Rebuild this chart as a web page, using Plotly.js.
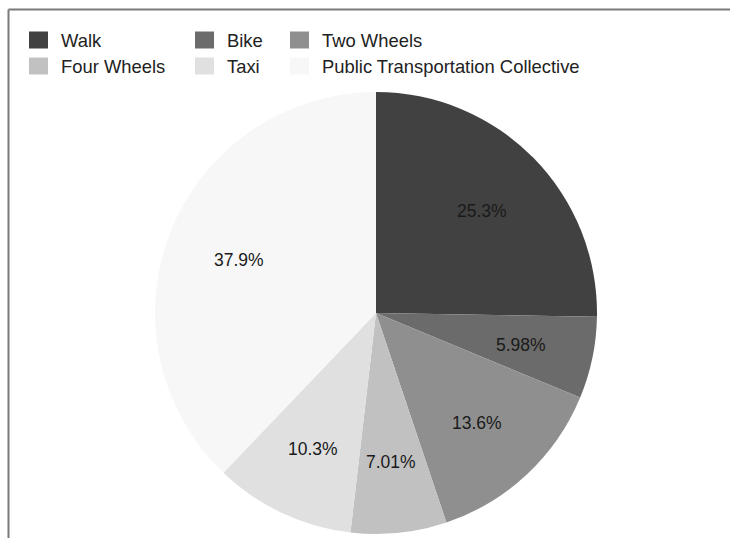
<!DOCTYPE html>
<html>
<head>
<meta charset="utf-8">
<script src="https://cdn.plot.ly/plotly-3.0.1.min.js"></script>
<style>
  html, body { margin: 0; padding: 0; background: #ffffff; }
  #chart { width: 730px; height: 538px; }
</style>
</head>
<body>
<div id="chart"></div>
<script>
// ---- data ----
var labels = ["Walk", "Bike", "Two Wheels", "Four Wheels", "Taxi", "Public Transportation Collective"];
var values = [25.3, 5.98, 13.6, 7.01, 10.3, 37.9];
var colors = ["#414141", "#6b6b6b", "#8f8f8f", "#c1c1c1", "#e0e0e0", "#f7f7f7"];

// ---- layout helpers ----
var W = 730, H = 538;
function px(x) { return x / W; }
function py(y) { return 1 - y / H; }

var cx = 376, cy = 313, r = 221;
var labelRadiusFrac = 0.67;
var FONT = "Liberation Sans, Arial, sans-serif";

var trace = {
  type: "pie",
  labels: labels,
  values: values,
  marker: { colors: colors, line: { width: 0 } },
  sort: false,
  direction: "clockwise",
  rotation: 0,
  textinfo: "none",
  hoverinfo: "label+percent",
  showlegend: false,
  domain: { x: [px(cx - r), px(cx + r)], y: [py(cy + r), py(cy - r)] }
};

var shapes = [];
var annotations = [];

// slice labels: placed on each slice's bisector at a fixed fraction of the radius
var total = values.reduce(function (a, b) { return a + b; }, 0);
var cum = 0;
values.forEach(function (v, i) {
  var mid = (cum + v / 2) / total * 2 * Math.PI;
  cum += v;
  var lx = cx + labelRadiusFrac * r * Math.sin(mid);
  var ly = cy - labelRadiusFrac * r * Math.cos(mid);
  annotations.push({
    xref: "paper", yref: "paper", x: px(lx), y: py(ly),
    xanchor: "center", yanchor: "middle", showarrow: false, yshift: -2,
    text: v + "%",
    font: { family: FONT, size: 17.5, color: "#1a1a1a" }
  });
});

// legend (columns sized to their widest label)
var colLeft = [29, 195, 290];
var rowCenter = [40, 66];
var sqW = 19, sqH = 17, textGap = 30;
labels.forEach(function (lab, i) {
  var row = Math.floor(i / 3), col = i % 3;
  var x0 = colLeft[col], yc = rowCenter[row];
  shapes.push({
    type: "rect", xref: "paper", yref: "paper",
    x0: px(x0), x1: px(x0 + sqW), y0: py(yc + sqH / 2), y1: py(yc - sqH / 2),
    fillcolor: colors[i], line: { width: 0 }
  });
  annotations.push({
    xref: "paper", yref: "paper", x: px(x0 + textGap), y: py(yc),
    xanchor: "left", yanchor: "middle", showarrow: false,
    text: lab,
    font: { family: FONT, size: 18.4, color: "#222222" }
  });
});

// frame (top and left edges)
shapes.push({ type: "line", xref: "paper", yref: "paper", x0: px(8.5), x1: 1, y0: py(9.5), y1: py(9.5), line: { color: "#7a7a7a", width: 2 } });
shapes.push({ type: "line", xref: "paper", yref: "paper", x0: px(8.5), x1: px(8.5), y0: py(9.5), y1: 0, line: { color: "#7a7a7a", width: 2 } });

var layout = {
  width: W, height: H,
  margin: { l: 0, r: 0, t: 0, b: 0, pad: 0 },
  paper_bgcolor: "#ffffff",
  plot_bgcolor: "#ffffff",
  showlegend: false,
  shapes: shapes,
  annotations: annotations,
  font: { family: FONT }
};

Plotly.newPlot("chart", [trace], layout, { displayModeBar: false, staticPlot: true });
</script>
</body>
</html>
